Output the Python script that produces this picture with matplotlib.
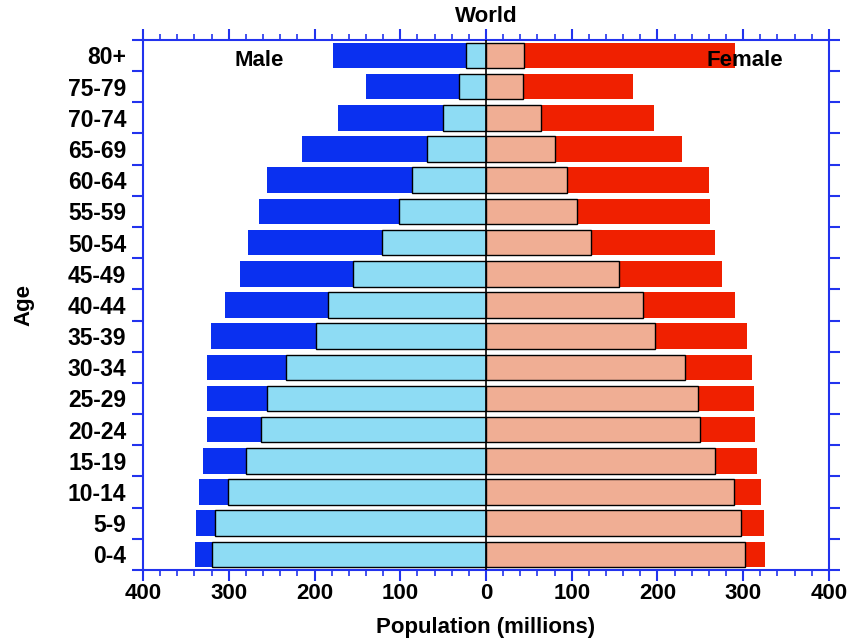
import matplotlib
matplotlib.use('Agg')
import matplotlib.pyplot as plt
import numpy as np

plt.rcParams['font.family'] = ['Liberation Sans', 'DejaVu Sans']
plt.rcParams['font.weight'] = 'bold'

# age groups, bottom to top
ages = ['0-4', '5-9', '10-14', '15-19', '20-24', '25-29', '30-34', '35-39',
        '40-44', '45-49', '50-54', '55-59', '60-64', '65-69', '70-74',
        '75-79', '80+']
# darker bars (millions)
male_dark = [339, 338, 335, 330, 325, 325, 325, 321, 304, 287, 278, 265,
             255, 215, 173, 140, 178]
female_dark = [325, 324, 321, 316, 314, 313, 310, 304, 290, 275, 267, 261,
               260, 229, 196, 171, 290]
# lighter bars (millions)
male_light = [320, 316, 301, 280, 262, 255, 233, 198, 184, 155, 121, 101,
              86, 69, 50, 31, 23]
female_light = [302, 298, 289, 267, 250, 247, 232, 197, 183, 155, 122, 106,
                94, 80, 64, 43, 44]

blue = '#0a30f0'
red = '#f02000'
lblue = '#8edcf4'
pink = '#f0ae94'
axis_blue = '#2233ee'

fig = plt.figure(figsize=(8.59, 6.43), dpi=100)
ax = fig.add_axes([0.1665, 0.1135, 0.7985, 0.8245])

y = np.arange(len(ages))
h = 0.82
ax.barh(y, -np.array(male_dark), height=h, color=blue, zorder=1)
ax.barh(y, female_dark, height=h, color=red, zorder=1)
ax.barh(y, -np.array(male_light), height=h, color=lblue, edgecolor='black',
        linewidth=1, zorder=2)
ax.barh(y, female_light, height=h, color=pink, edgecolor='black',
        linewidth=1, zorder=2)
ax.axvline(0, color='black', lw=1.2, zorder=3)

ax.set_xlim(-400, 400)
ax.set_ylim(-0.5, len(ages) - 0.5)

for s in ax.spines.values():
    s.set_color(axis_blue)
    s.set_linewidth(1.5)

xt = np.arange(-400, 401, 100)
ax.set_xticks(xt)
ax.set_xticklabels([str(abs(v)) for v in xt], fontsize=16, fontweight='bold')
ax.set_xticks(np.arange(-400, 401, 20), minor=True)
ax.tick_params(axis='x', which='major', direction='out', length=8, width=1.5,
               color=axis_blue, top=True, bottom=True, pad=1)
ax.tick_params(axis='x', which='minor', direction='out', length=4, width=1.2,
               color=axis_blue, top=True, bottom=True)

ax.set_yticks(y)
ax.set_yticklabels(ages, fontsize=16.5, fontweight='bold')
ax.set_yticks(np.arange(-0.5, len(ages), 1.0), minor=True)
ax.tick_params(axis='y', which='major', length=0, pad=12)
ax.tick_params(axis='y', which='minor', direction='out', length=8, width=1.5,
               color=axis_blue, left=True, right=True)

ax.set_title('World', fontsize=16, fontweight='bold', pad=13)
ax.set_xlabel('Population (millions)', fontsize=16, fontweight='bold', labelpad=10)
ax.set_ylabel('Age', fontsize=16, fontweight='bold', labelpad=24)

ax.text(-264, 15.85, 'Male', fontsize=16, fontweight='bold', ha='center', va='center', zorder=4)
ax.text(302, 15.85, 'Female', fontsize=16, fontweight='bold', ha='center', va='center', zorder=4)

fig.savefig('out.png', dpi=100)
